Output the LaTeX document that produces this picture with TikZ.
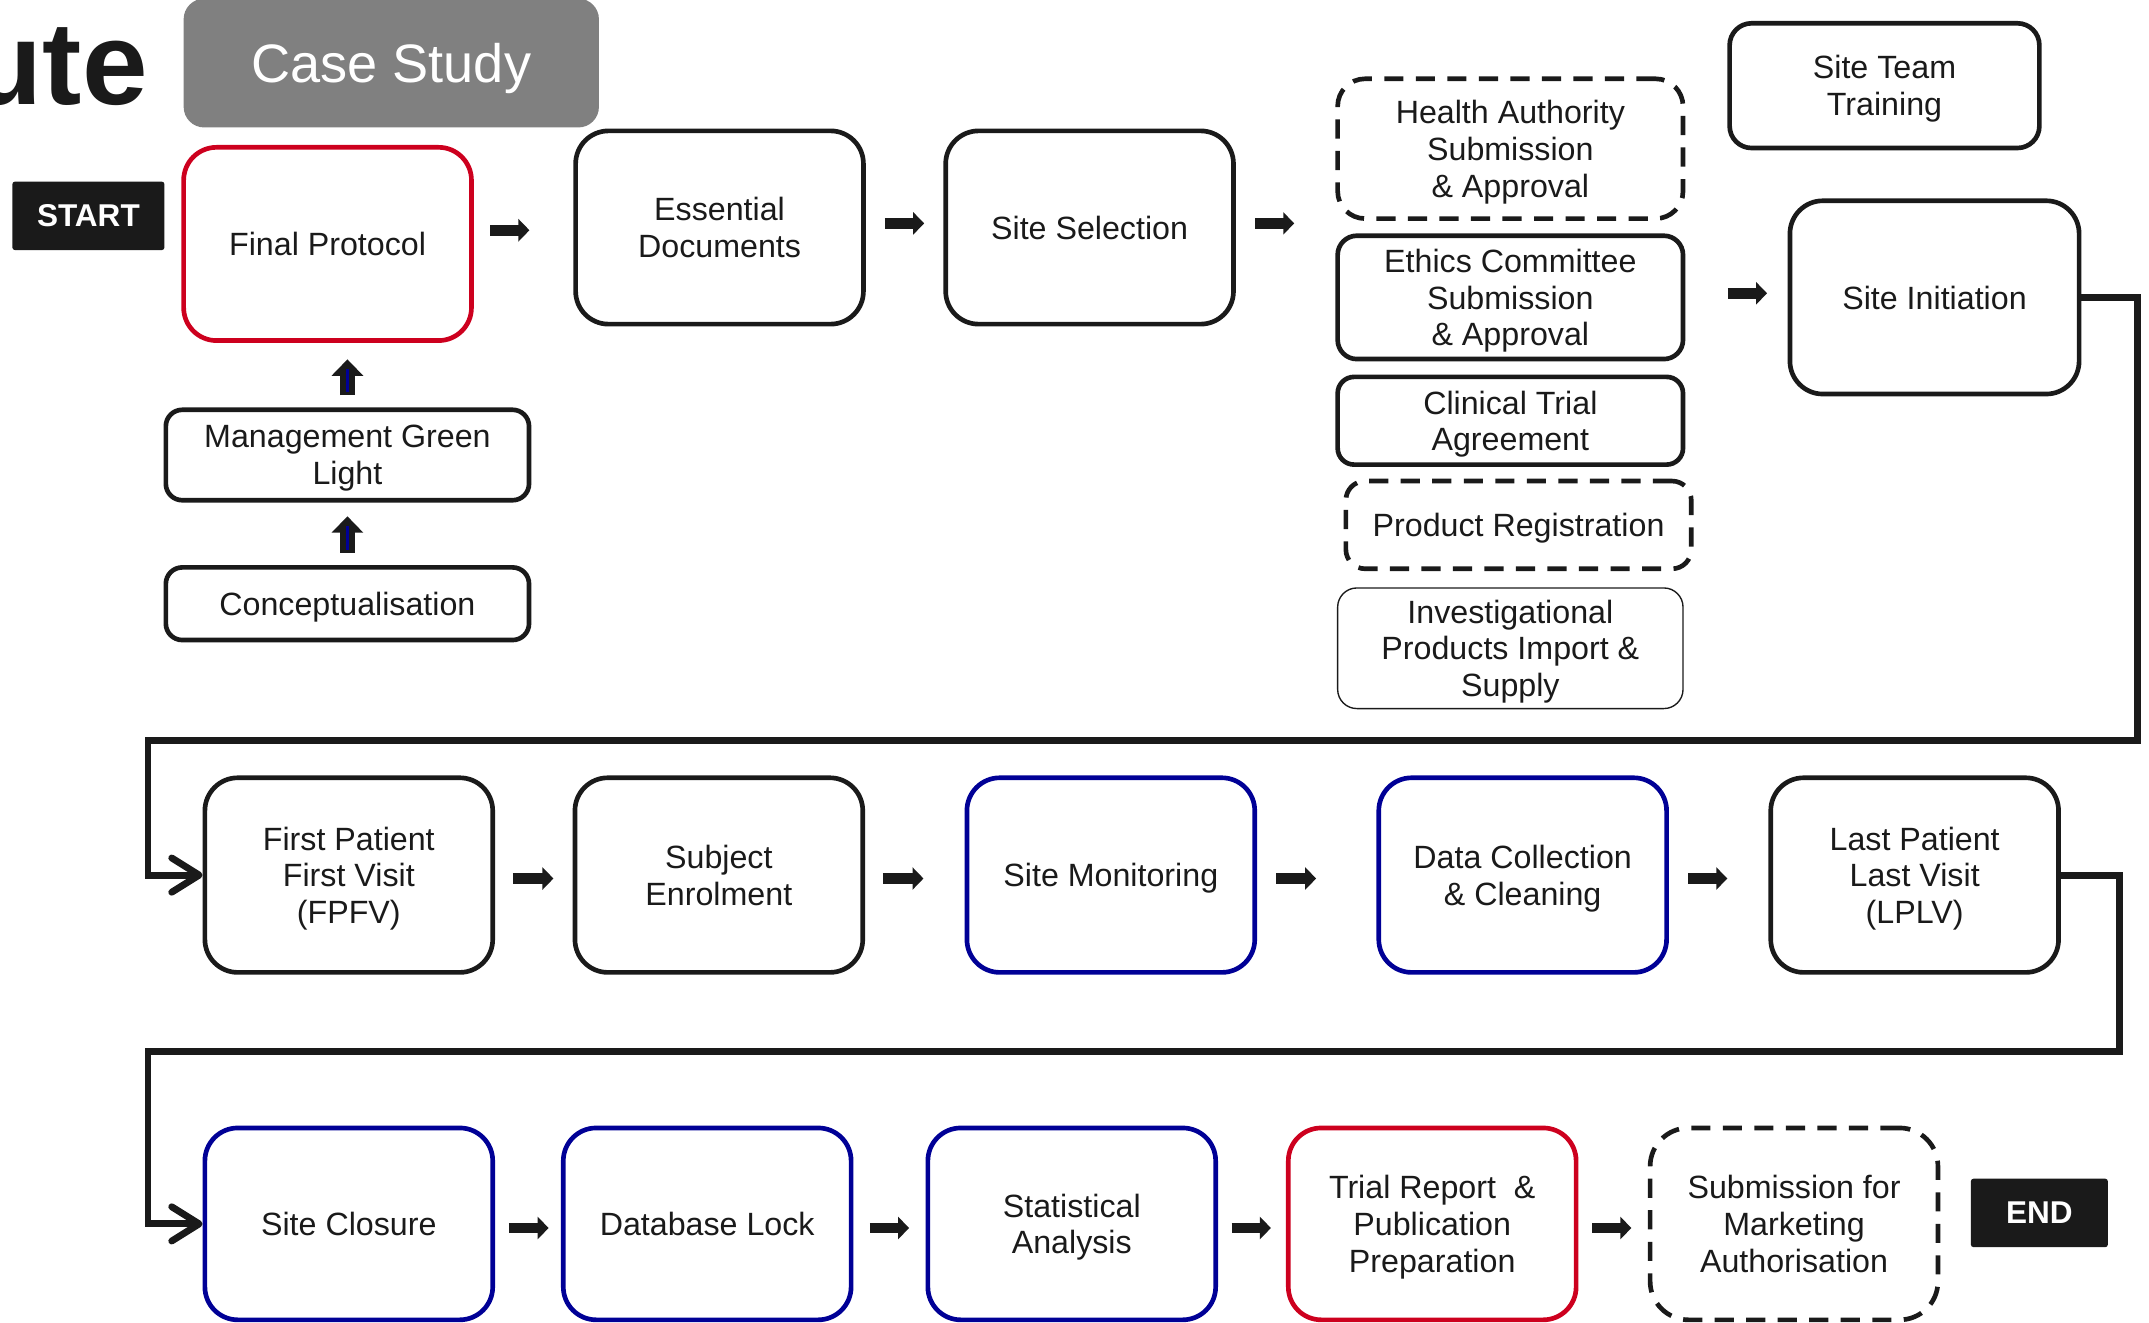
\documentclass[tikz,border=0pt]{standalone}
\usepackage{fontspec}
\setmainfont{Liberation Sans}
\usetikzlibrary{arrows.meta,calc}

\definecolor{ink}{RGB}{26,26,26}
\definecolor{stagered}{RGB}{205,0,30}
\definecolor{stageblue}{RGB}{0,0,150}
\definecolor{banner}{RGB}{128,128,128}

\tikzset{
  box/.style={draw=ink, line width=3.4pt, rounded corners=#1, inner sep=0pt,
    align=center, text=ink, text depth=-3.5pt,
    font=\fontsize{23.5}{26.8}\selectfont},
  box/.default=20pt,
  tallbox/.style={box=24pt, minimum width=210pt, minimum height=141pt},
  redline/.style={draw=stagered},
  blueline/.style={draw=stageblue},
  dashline/.style={dash pattern=on 14pt off 9pt},
  tag/.style={fill=ink, text=white, inner sep=0pt, rounded corners=2pt, text depth=0pt,
    font=\bfseries\fontsize{23}{23}\selectfont},
  flow/.style={draw=ink, line width=5pt,
    -{Straight Barb[length=20pt,width=25pt,round]}},
  blockarrow/.style={draw=ink, line width=8pt, -{Triangle[length=8pt,width=16pt]}},
  uparrow/.style={draw=ink, line width=10.5pt, -{Triangle[length=12pt,width=22.5pt]}},
  upcore/.style={draw=stageblue, line width=2.8pt}
}

\begin{document}
\begin{tikzpicture}[x=1pt,y=-1pt]
\useasboundingbox (0,0) rectangle (1568,965);

% heading fragments
\node[anchor=base east, inner sep=0pt, text=ink,
      font=\bfseries\fontsize{86}{86}\selectfont] (title) at (108,76) {ute};
\node[fill=banner, rounded corners=15pt, minimum width=303pt, minimum height=94pt,
      inner sep=0pt, text=white, text depth=0pt,
      font=\fontsize{39.5}{39.5}\selectfont] (case) at (285.5,46) {Case Study};
\node[tag, minimum width=111pt, minimum height=50pt] (start) at (64.5,157.5) {START};

% start-up phase
\node[tallbox, redline] (fp) at (239,178) {Final Protocol};
\node[tallbox] (ed) at (525,166) {Essential\\Documents};
\node[tallbox] (ss) at (795,166) {Site Selection};
\node[box=12pt, minimum width=265pt, minimum height=66pt] (mgl) at (253.5,332) {Management Green\\Light};
\node[box=12pt, minimum width=265pt, minimum height=53pt] (con) at (253.5,440.5) {Conceptualisation};

\node[box=20pt, dashline, minimum width=252pt, minimum height=102pt] (ha) at (1102,108.5) {Health Authority\\Submission\\\& Approval};
\node[box=14pt, minimum width=252pt, minimum height=90pt] (ec) at (1102,217) {Ethics Committee\\Submission\\\& Approval};
\node[box=12pt, minimum width=252pt, minimum height=64pt] (cta) at (1102,307) {Clinical Trial\\Agreement};
\node[box=14pt, dashline, minimum width=252pt, minimum height=64pt] (pr) at (1108,383) {Product Registration};
\node[box=14pt, line width=1pt, minimum width=252pt, minimum height=88pt] (ip) at (1102,473) {Investigational\\Products Import \&\\Supply};

\node[box=16pt, minimum width=226pt, minimum height=91pt] (stt) at (1375,62.5) {Site Team\\Training};
\node[tallbox, minimum width=211pt] (si) at (1411.5,217) {Site Initiation};

% conduct phase
\node[tallbox, minimum height=142pt] (fpfv) at (254.5,638.5) {First Patient\\First Visit\\(FPFV)};
\node[tallbox, minimum height=142pt] (se) at (524.5,638.5) {Subject\\Enrolment};
\node[tallbox, minimum height=142pt, blueline] (sm) at (810.5,638.5) {Site Monitoring};
\node[tallbox, minimum height=142pt, blueline] (dc) at (1111,638.5) {Data Collection\\\& Cleaning};
\node[tallbox, minimum height=142pt] (lplv) at (1397,638.5) {Last Patient\\Last Visit\\(LPLV)};

% close-out phase
\node[tallbox, minimum height=140pt, blueline] (sc) at (254.5,893) {Site Closure};
\node[tallbox, minimum height=140pt, blueline] (dl) at (516,893) {Database Lock};
\node[tallbox, minimum height=140pt, blueline] (sa) at (782,893) {Statistical\\Analysis};
\node[tallbox, minimum height=140pt, redline] (tr) at (1045,893) {Trial Report~ \&\\Publication\\Preparation};
\node[tallbox, box=28pt, dashline, minimum height=140pt] (sma) at (1309,893) {Submission for\\Marketing\\Authorisation};
\node[tag, minimum width=100pt, minimum height=50pt] (end) at (1488,885) {END};

% upward steps
\draw[uparrow] ($(con.north)+(0,-9)$) -- ($(mgl.south)+(0,10)$);
\draw[upcore] ($(con.north)+(0,-11)$) -- ($(mgl.south)+(0,17)$);
\draw[uparrow] ($(mgl.north)+(0,-9)$) -- ($(fp.south -| mgl.north)+(0,12)$);
\draw[upcore] ($(mgl.north)+(0,-11)$) -- ($(fp.south -| mgl.north)+(0,19)$);

% forward steps, first row
\draw[blockarrow] ($(fp.east)+(12,-10)$) -- ($(ed.west)+(-32,2)$);
\draw[blockarrow] ($(ed.east)+(14,-3)$) -- ($(ss.west)+(-14,-3)$);
\draw[blockarrow] ($(ss.east)+(14,-3)$) -- ($(ec.west)+(-30,-54)$);
\draw[blockarrow] ($(ec.east)+(31,-3)$) -- ($(si.west)+(-15,-3)$);

% forward steps, second row
\draw[blockarrow] ($(fpfv.east)+(13,2.5)$) -- ($(se.west)+(-14,2.5)$);
\draw[blockarrow] ($(se.east)+(13,2.5)$) -- ($(sm.west)+(-30,2.5)$);
\draw[blockarrow] ($(sm.east)+(14,2.5)$) -- ($(dc.west)+(-44,2.5)$);
\draw[blockarrow] ($(dc.east)+(14,2.5)$) -- ($(lplv.west)+(-30,2.5)$);

% forward steps, third row
\draw[blockarrow] ($(sc.east)+(10,3)$) -- ($(dl.west)+(-9,3)$);
\draw[blockarrow] ($(dl.east)+(12,3)$) -- ($(sa.west)+(-12,3)$);
\draw[blockarrow] ($(sa.east)+(10,3)$) -- ($(tr.west)+(-11,3)$);
\draw[blockarrow] ($(tr.east)+(10,3)$) -- ($(sma.west)+(-12,3)$);

% row-to-row links
\coordinate (bendA) at (108,540);
\coordinate (bendB) at (108,767);
\draw[flow] (si.east) -- ++(41,0) |- (bendA) |- (fpfv.west);
\draw[flow] (lplv.east) -- ++(43,0) |- (bendB) |- (sc.west);
\end{tikzpicture}
\end{document}
